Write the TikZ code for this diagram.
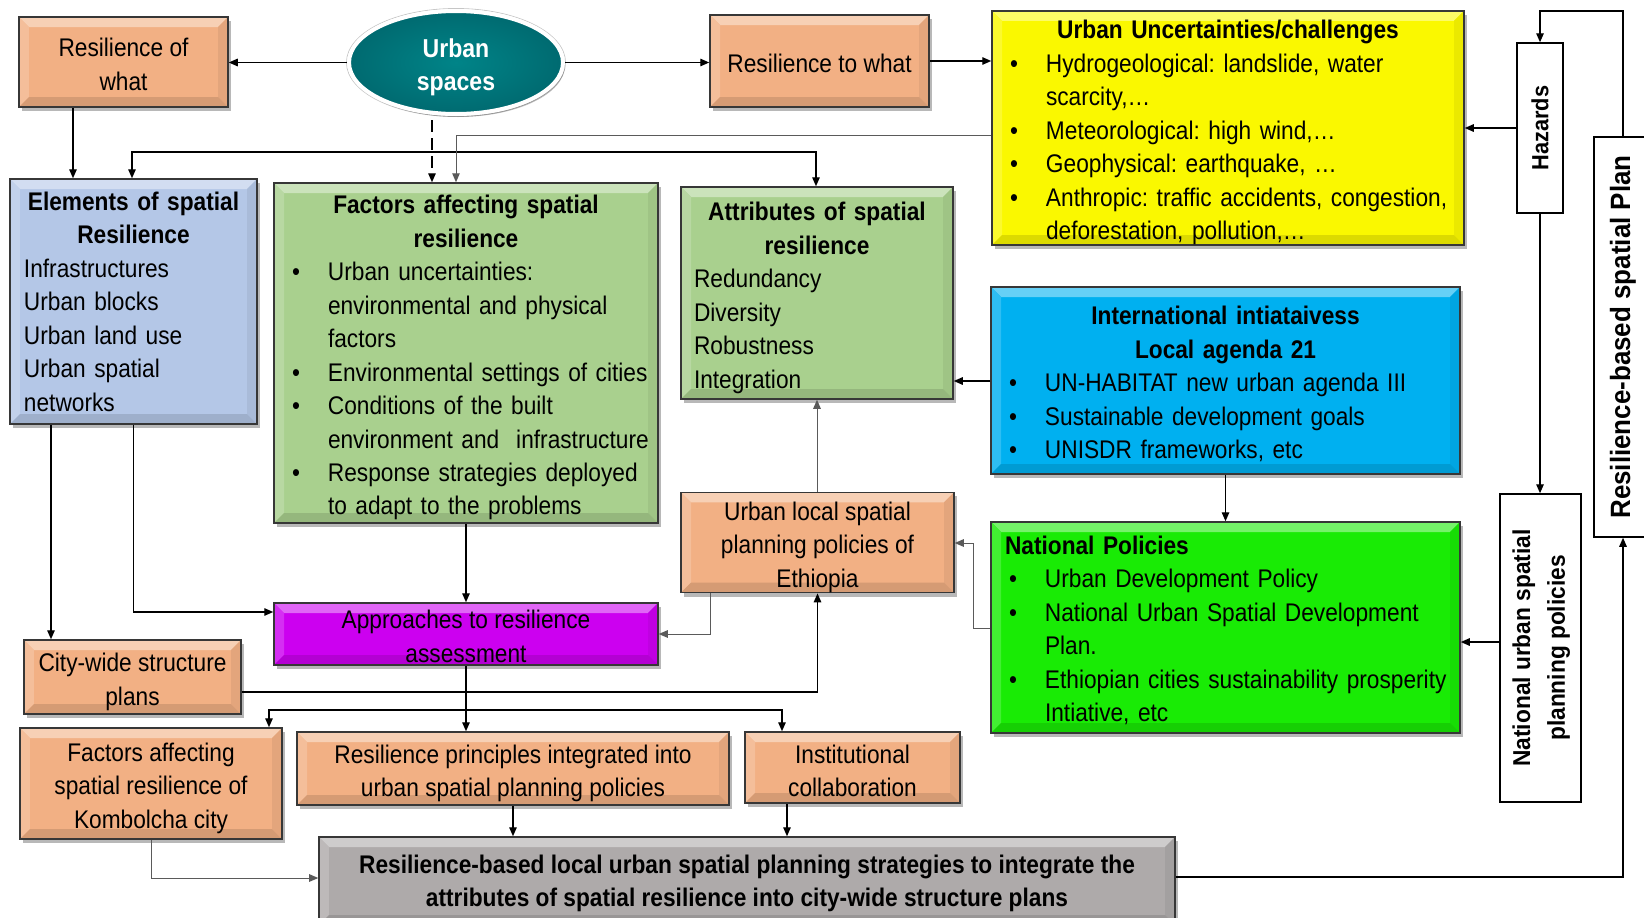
\documentclass[tikz,border=0pt]{standalone}
\usepackage{fontspec}
\usepackage{graphicx}
\setmainfont{Liberation Sans}[FakeStretch=0.89]
\newfontfamily\vfont{Liberation Sans}[FakeStretch=0.93]
\usetikzlibrary{shapes.geometric,shadows,arrows.meta}

\definecolor{peach}{RGB}{242,176,132}
\definecolor{paleblue}{RGB}{180,199,231}
\definecolor{sage}{RGB}{169,208,142}
\definecolor{lemon}{RGB}{250,248,0}
\definecolor{sky}{RGB}{0,176,240}
\definecolor{lime}{RGB}{25,235,5}
\definecolor{violet}{RGB}{204,0,240}
\definecolor{stone}{RGB}{174,170,170}
\definecolor{tealA}{RGB}{0,132,136}
\definecolor{tealB}{RGB}{0,106,112}
\definecolor{edge}{RGB}{55,55,55}
\definecolor{thinline}{RGB}{90,90,90}

\newcommand\bodyfont{\fontsize{25.6}{33.6}\selectfont}
% bullet line, continuation line, plain line, centred bold title line
\newcommand\bl[1]{\makebox[40bp][l]{\hspace*{4bp}\textbullet}\mbox{#1}}
\newcommand\cl[1]{\hspace*{40bp}\mbox{#1}}
\newcommand\pl[1]{\mbox{#1}}
\newcommand\ttl[1]{\makebox[\linewidth]{\bfseries #1}}
% invisible strut setting the top room of a first line
\newcommand\tstrut[1]{\rule{0pt}{#1bp}}

\begin{document}
\frenchspacing
\begin{tikzpicture}[x=1bp,y=-1bp,
  >={Triangle[length=9bp,width=7.5bp]},
  bevel/.style={path picture={
    \coordinate (pNW) at (path picture bounding box.north west);
    \coordinate (pNE) at (path picture bounding box.north east);
    \coordinate (pSW) at (path picture bounding box.south west);
    \coordinate (pSE) at (path picture bounding box.south east);
    \fill[#1!60!white] (pNW) -- (pNE) -- ([shift={(-10,10)}]pNE) -- ([shift={(10,10)}]pNW) -- cycle;
    \fill[#1!82!white] (pNW) -- ([shift={(10,10)}]pNW) -- ([shift={(10,-10)}]pSW) -- (pSW) -- cycle;
    \fill[#1!94!black] (pNE) -- (pSE) -- ([shift={(-10,-10)}]pSE) -- ([shift={(-10,10)}]pNE) -- cycle;
    \fill[#1!88!black] (pSW) -- (pSE) -- ([shift={(-10,-10)}]pSE) -- ([shift={(10,-10)}]pSW) -- cycle;
  }},
  box/.style={rectangle, draw=edge, line width=1.5bp, fill=#1, bevel=#1,
    inner sep=0pt, font=\bodyfont,
    drop shadow={shadow xshift=3bp, shadow yshift=-4bp, fill=black, opacity=0.28}},
  vbox/.style={rectangle, draw=black, line width=1.5bp, fill=white,
    inner sep=0pt, font=\vfont\bfseries},
  arr/.style={draw=black, line width=1.4bp, ->},
  thinarr/.style={draw=thinline, line width=1bp, ->},
]
\useasboundingbox (0,0) rectangle (1644,917);
\clip (0,0) rectangle (1644,917);
\fill[white] (0,0) rectangle (1644,917);

% ---------- top row ----------
\node[box=peach, minimum width=209bp, minimum height=90bp, align=center]
  (rwhat) at (123.5,62) {\tstrut{23.5}Resilience of\\what};

\draw[gray!45, line width=0.8bp] (456,62.5) ellipse [x radius=109.5bp, y radius=54bp];
\node[ellipse, minimum width=214bp, minimum height=103bp, inner sep=0pt,
  draw=white, line width=4bp, inner color=tealA, outer color=tealB,
  text=white, align=center, font=\fontsize{26}{33.5}\selectfont\bfseries,
  drop shadow={shadow xshift=2bp, shadow yshift=-3bp, fill=black, opacity=0.25}]
  (urban) at (456,62.5) {\tstrut{28}Urban\\spaces};

\node[box=peach, minimum width=219bp, minimum height=92bp, align=center]
  (rtowhat) at (819.5,61) {\tstrut{23.5}Resilience to what};

\node[box=lemon, minimum width=472bp, minimum height=226bp, text width=444bp, align=left]
  (unc) at (1228,128) {\tstrut{28}\ttl{Urban Uncertainties/challenges}\\
  \bl{Hydrogeological: landslide, water}\\
  \cl{scarcity,…}\\
  \bl{Meteorological: high wind,…}\\
  \bl{Geophysical: earthquake, …}\\
  \bl{Anthropic: traffic accidents, congestion,}\\
  \cl{deforestation, pollution,…}};

% ---------- right-hand vertical boxes ----------
\node[vbox, minimum width=46bp, minimum height=170bp]
  (haz) at (1540,128) {\rotatebox{90}{\fontsize{23.5}{28}\selectfont Hazards}};
\node[vbox, minimum width=58bp, minimum height=400bp]
  (rbsp) at (1623,337) {\rotatebox{90}{\fontsize{28}{32}\selectfont Resilience-based spatial Plan}};
\node[vbox, minimum width=81bp, minimum height=308bp]
  (nuspp) at (1540.5,648) {\rotatebox{90}{\fontsize{24.5}{35}\selectfont
   \begin{tabular}{@{}c@{}}National urban spatial\\ planning policies\end{tabular}}};

% ---------- middle band ----------
\node[box=paleblue, minimum width=247bp, minimum height=245bp, text width=219bp, align=left]
  (elem) at (133.5,301.5) {\ttl{Elements of spatial}\\
  \ttl{Resilience}\\
  \pl{Infrastructures}\\
  \pl{Urban blocks}\\
  \pl{Urban land use}\\
  \pl{Urban spatial}\\
  \pl{networks}};

\node[box=sage, minimum width=384bp, minimum height=340bp, text width=356bp, align=left]
  (fact) at (466,353) {\tstrut{28}\ttl{Factors affecting spatial}\\
  \ttl{resilience}\\
  \bl{Urban uncertainties:}\\
  \cl{environmental and physical}\\
  \cl{factors}\\
  \bl{Environmental settings of cities}\\
  \bl{Conditions of the built}\\
  \cl{environment and\ \ infrastructure}\\
  \bl{Response strategies deployed}\\
  \cl{to adapt to the problems}};

\node[box=sage, minimum width=272bp, minimum height=212bp, text width=246bp, align=left]
  (attr) at (817,293) {\tstrut{28}\ttl{Attributes of spatial}\\
  \ttl{resilience}\\
  \pl{Redundancy}\\
  \pl{Diversity}\\
  \pl{Robustness}\\
  \pl{Integration}};

\node[box=sky, minimum width=469bp, minimum height=187bp, text width=441bp, align=left]
  (intl) at (1225.5,380.5) {\tstrut{26}\ttl{International intiataivess}\\
  \ttl{Local agenda 21}\\
  \bl{UN-HABITAT new urban agenda III}\\
  \bl{Sustainable development goals}\\
  \bl{UNISDR frameworks, etc}};

\node[box=peach, minimum width=273bp, minimum height=93bp, align=center]
  (ulocal) at (817.5,542.5) {\tstrut{28}Urban local spatial\\planning policies of\\Ethiopia};

\node[box=lime, minimum width=469bp, minimum height=211bp, text width=441bp, align=left]
  (natpol) at (1225.5,627.5) {\tstrut{24}\pl{\bfseries National Policies}\\
  \bl{Urban Development Policy}\\
  \bl{National Urban Spatial Development}\\
  \cl{Plan.}\\
  \bl{Ethiopian cities sustainability prosperity}\\
  \cl{Intiative, etc}};

% ---------- lower band ----------
\node[box=violet, minimum width=384bp, minimum height=62bp, align=center]
  (appr) at (466,634) {\tstrut{23.5}Approaches to resilience\\assessment};

\node[box=peach, minimum width=217bp, minimum height=74bp, align=center]
  (city) at (132.5,677) {\tstrut{28}City-wide structure\\plans};

\node[box=peach, minimum width=262bp, minimum height=111bp, align=center]
  (komb) at (151,783.5) {\tstrut{28}Factors affecting\\spatial resilience of\\Kombolcha city};

\node[box=peach, minimum width=432bp, minimum height=73bp, align=center]
  (rprin) at (513,768.5) {\tstrut{28}Resilience principles integrated into\\urban spatial planning policies};

\node[box=peach, minimum width=215bp, minimum height=71bp, align=center]
  (inst) at (852.5,767.5) {\tstrut{25}Institutional\\collaboration};

\node[box=stone, minimum width=856bp, minimum height=88bp, align=center, font=\bodyfont\bfseries]
  (gray) at (747,881) {\tstrut{23.5}Resilience-based local urban spatial planning strategies to integrate the\\
  attributes of spatial resilience into city-wide structure plans};

% ---------- connectors ----------
\draw[arr] (urban.west) -- (rwhat.east |- urban.west);
\draw[arr] (urban.east) -- (rtowhat.west |- urban.east);
\draw[arr] (rtowhat.east) -- (unc.west |- rtowhat.east);
\draw[arr] (73,0 |- rwhat.south) -- (73,0 |- elem.north);
\draw[arr, <->] (132,0 |- elem.north) -- (132,152) -- (816,152) -- (816,0 |- attr.north);
\draw[arr, dash pattern=on 12bp off 6bp, shorten <=4bp] (urban.south -| 432,0) -- (432,0 |- fact.north);
\draw[thinarr] (unc.west |- 0,135) -- (456,135) -- (456,0 |- fact.north);
\draw[arr] (intl.west |- 0,381) -- (attr.east |- 0,381);
\draw[thinarr] (ulocal.north -| attr.south) -- (attr.south);
\draw[arr] (intl.south) -- (intl.south |- natpol.north);
\draw[thinarr] (natpol.west |- 0,628) -- (973,628) -- (973,543) -- (ulocal.east |- 0,543);
\draw[arr] (haz.west) -- (unc.east |- haz.west);
\draw[arr] (rbsp.north) -- (rbsp.north |- 0,11) -| (haz.north);
\draw[arr] (haz.south) -- (haz.south |- nuspp.north);
\draw[arr] (nuspp.west |- 0,642) -- (natpol.east |- 0,642);
\draw[arr] (gray.east |- 0,877) -| (rbsp.south);
\draw[arr] (51,0 |- elem.south) -- (51,0 |- city.north);
\draw[arr] (elem.south) |- (appr.west |- 0,612);
\draw[arr] (fact.south) -- (appr.north);
\draw[thinarr] (710,0 |- ulocal.south) |- (appr.east);
\draw[arr] (city.east |- 0,692) -| (ulocal.south);
\coordinate (split) at (466,710);
\draw[arr] (appr.south) -- (appr.south |- rprin.north);
\draw[arr] (split) -| (269,0 |- komb.north);
\draw[arr] (split) -| (782,0 |- inst.north);
\draw[arr] (rprin.south) -- (rprin.south |- gray.north);
\draw[arr] (787,0 |- inst.south) -- (787,0 |- gray.north);
\draw[thinarr] (komb.south) |- (gray.west |- 0,878);
\end{tikzpicture}
\end{document}
